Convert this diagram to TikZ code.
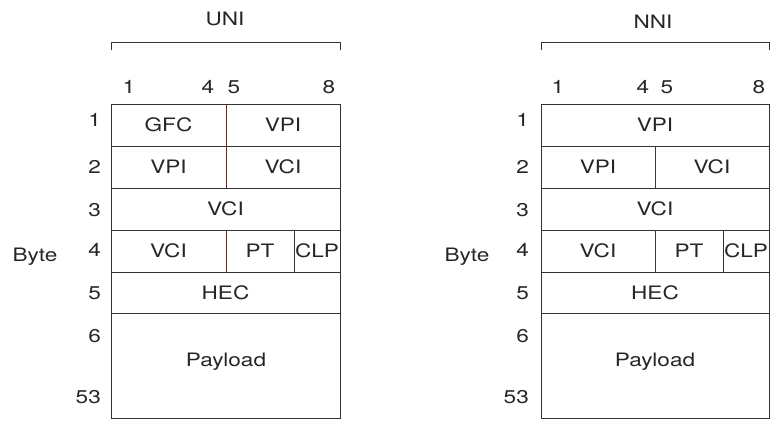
\documentclass[tikz,border=0pt]{standalone}
\usepackage{fontspec}
\setmainfont{TeX Gyre Heros}[FakeStretch=1.22]
\definecolor{divbrown}{RGB}{90,45,45}
\tikzset{
	lbl/.style={font=\fontsize{18.5}{21}\selectfont,text=black!85,inner sep=0pt},
	rowno/.style={lbl,anchor=east},
	cell/.style={draw=black!80,line width=0.9pt},
	mid/.style={draw=divbrown,line width=0.9pt}
}
\begin{document}
\begin{tikzpicture}[x=1pt,y=-1pt]
	\useasboundingbox (0,0) rectangle (772,423);
	% UNI header
	\node[lbl] (uni) at (225,19) {UNI};
	\coordinate (ubl) at (111,50);
	\coordinate (ubr) at (340,50);
	\draw[cell] (ubl)--(111,42)--(340,42)--(ubr);
	\node[lbl] (ucol1) at (129,87) {1};
	\node[lbl] (ucol4) at (208,87) {4};
	\node[lbl] (ucol5) at (234,87) {5};
	\node[lbl] (ucol8) at (329,87) {8};
	% UNI cell
	\draw[cell] (111,104) rectangle (340,418);
	\draw[cell] (111,146)--(340,146);
	\draw[cell] (111,188)--(340,188);
	\draw[cell] (111,230)--(340,230);
	\draw[cell] (111,272)--(340,272);
	\draw[cell] (111,313)--(340,313);
	\draw[mid] (226,104)--(226,188);
	\draw[mid] (226,230)--(226,272);
	\draw[cell] (294,230)--(294,272);
	\node[lbl] (ugfc) at (168.5,125) {GFC};
	\node[lbl] (uvpia) at (283,125) {VPI};
	\node[lbl] (uvpib) at (168.5,167) {VPI};
	\node[lbl] (uvcia) at (283,167) {VCI};
	\node[lbl] (uvcib) at (225.5,209) {VCI};
	\node[lbl] (uvcic) at (168.5,251) {VCI};
	\node[lbl] (upt) at (260,251) {PT};
	\node[lbl] (uclp) at (317,251) {CLP};
	\node[lbl] (uhec) at (225.5,292.5) {HEC};
	\node[lbl] (upay) at (226,362) {Payload};
	% UNI bytes
	\node[rowno] (urow1) at (101,120) {1};
	\node[rowno] (urow2) at (101,167) {2};
	\node[rowno] (urow3) at (101,210) {3};
	\node[rowno] (urow4) at (101,250) {4};
	\node[rowno] (urow5) at (101,293) {5};
	\node[rowno] (urow6) at (101,336) {6};
	\node[rowno] (urow53) at (101,397) {53};
	\node[lbl] (ubyte) at (35,257) {Byte};

	% NNI header
	\node[lbl] (nni) at (653,22) {NNI};
	\coordinate (nbl) at (541,50);
	\coordinate (nbr) at (769,50);
	\draw[cell] (nbl)--(541,42)--(769,42)--(nbr);
	\node[lbl] (ncol1) at (558,87) {1};
	\node[lbl] (ncol4) at (643,87) {4};
	\node[lbl] (ncol5) at (667,87) {5};
	\node[lbl] (ncol8) at (759,87) {8};
	% NNI cell
	\draw[cell] (541,104) rectangle (769,418);
	\draw[cell] (541,146)--(769,146);
	\draw[cell] (541,188)--(769,188);
	\draw[cell] (541,230)--(769,230);
	\draw[cell] (541,272)--(769,272);
	\draw[cell] (541,313)--(769,313);
	\draw[mid] (655,146)--(655,188);
	\draw[mid] (655,230)--(655,272);
	\draw[cell] (723,230)--(723,272);
	\node[lbl] (nvpia) at (655,125) {VPI};
	\node[lbl] (nvpib) at (598,167) {VPI};
	\node[lbl] (nvcia) at (712,167) {VCI};
	\node[lbl] (nvcib) at (655,209) {VCI};
	\node[lbl] (nvcic) at (598,251) {VCI};
	\node[lbl] (npt) at (689,251) {PT};
	\node[lbl] (nclp) at (746,251) {CLP};
	\node[lbl] (nhec) at (655,292.5) {HEC};
	\node[lbl] (npay) at (655,362) {Payload};
	% NNI bytes
	\node[rowno] (nrow1) at (529,120) {1};
	\node[rowno] (nrow2) at (529,167) {2};
	\node[rowno] (nrow3) at (529,210) {3};
	\node[rowno] (nrow4) at (529,250) {4};
	\node[rowno] (nrow5) at (529,293) {5};
	\node[rowno] (nrow6) at (529,336) {6};
	\node[rowno] (nrow53) at (529,397) {53};
	\node[lbl] (nbyte) at (467,257) {Byte};
\end{tikzpicture}
\end{document}
